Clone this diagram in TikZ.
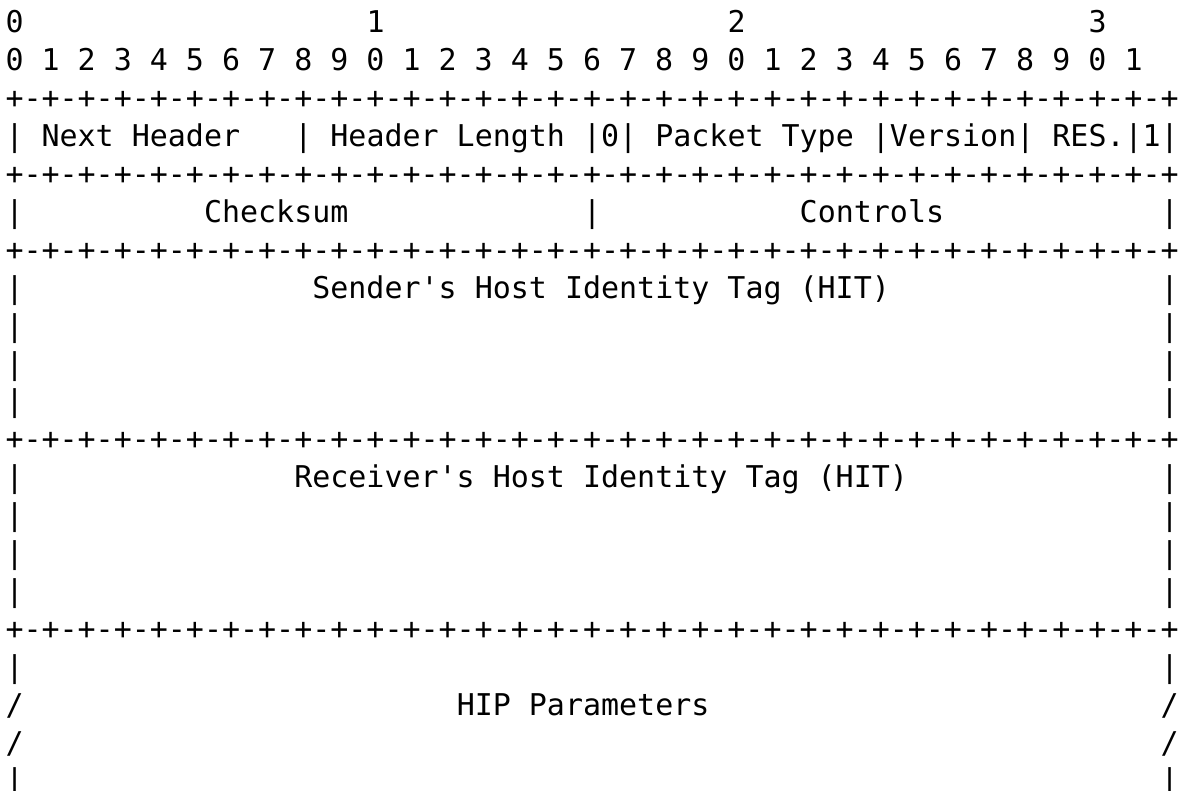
\documentclass[tikz,border=0pt]{standalone}
\usepackage{fontspec}
\newfontfamily\asciimono{DejaVu Sans Mono}
\tikzset{
  asc/.style={anchor=base west, inner sep=0pt, outer sep=0pt, text=black,
    font=\asciimono\fontsize{29.98pt}{36pt}\selectfont}
}
% \T{name}{column}{row}{text}
\newcommand\T[4]{\node[asc] (#1) at ({5.5+18.05*(#2)},{758-37.9*((#3)-1)}) {#4};}
\newcommand\sepline{+-+-+-+-+-+-+-+-+-+-+-+-+-+-+-+-+-+-+-+-+-+-+-+-+-+-+-+-+-+-+-+-+}
\begin{document}
\begin{tikzpicture}[x=1pt,y=1pt]
\useasboundingbox (0,0) rectangle (1182,791);
% bit ruler
\T{d0}{0}{1}{0}
\T{d1}{20}{1}{1}
\T{d2}{40}{1}{2}
\T{d3}{60}{1}{3}
\T{bits}{0}{2}{0 1 2 3 4 5 6 7 8 9 0 1 2 3 4 5 6 7 8 9 0 1 2 3 4 5 6 7 8 9 0 1}
% separators
\T{sepA}{0}{3}{\sepline}
\T{sepB}{0}{5}{\sepline}
\T{sepC}{0}{7}{\sepline}
\T{sepD}{0}{12}{\sepline}
\T{sepE}{0}{17}{\sepline}
% row 4
\T{r4a}{0}{4}{|}
\T{nh}{2}{4}{Next Header}
\T{r4b}{16}{4}{|}
\T{hl}{18}{4}{Header Length}
\T{zero}{32}{4}{|0|}
\T{pt}{36}{4}{Packet Type}
\T{ver}{48}{4}{|Version|}
\T{res}{58}{4}{RES.|1|}
% row 6
\T{r6a}{0}{6}{|}
\T{cks}{11}{6}{Checksum}
\T{r6b}{32}{6}{|}
\T{ctl}{44}{6}{Controls}
\T{r6c}{64}{6}{|}
% sender HIT
\T{r8a}{0}{8}{|}
\T{shit}{17}{8}{Sender's Host Identity Tag (HIT)}
\T{r8b}{64}{8}{|}
\T{r9a}{0}{9}{|}\T{r9b}{64}{9}{|}
\T{r10a}{0}{10}{|}\T{r10b}{64}{10}{|}
\T{r11a}{0}{11}{|}\T{r11b}{64}{11}{|}
% receiver HIT
\T{r13a}{0}{13}{|}
\T{rhit}{16}{13}{Receiver's Host Identity Tag (HIT)}
\T{r13b}{64}{13}{|}
\T{r14a}{0}{14}{|}\T{r14b}{64}{14}{|}
\T{r15a}{0}{15}{|}\T{r15b}{64}{15}{|}
\T{r16a}{0}{16}{|}\T{r16b}{64}{16}{|}
% parameters
\T{r18a}{0}{18}{|}\T{r18b}{64}{18}{|}
\T{r19a}{0}{19}{/}
\T{hip}{25}{19}{HIP Parameters}
\T{r19b}{64}{19}{/}
\T{r20a}{0}{20}{/}\T{r20b}{64}{20}{/}
\T{r21a}{0}{21}{|}\T{r21b}{64}{21}{|}
\end{tikzpicture}
\end{document}
